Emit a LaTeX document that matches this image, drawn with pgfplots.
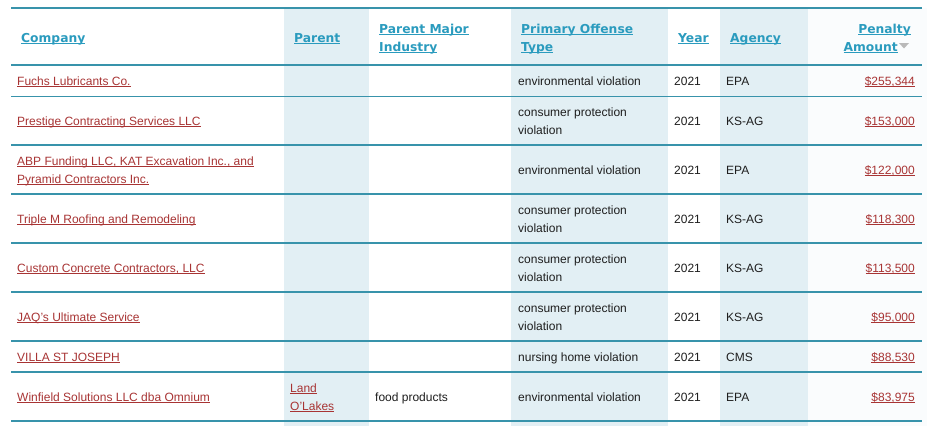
\documentclass[border=0pt]{standalone}
\usepackage{pgfplots}
\pgfplotsset{compat=1.18}
\usepackage{fontspec}
\setmainfont{Liberation Sans}
\newfontfamily\hdfont{DejaVu Sans}
\definecolor{hd}{HTML}{2A9BBE}
\definecolor{ln}{HTML}{3893AB}
\definecolor{lk}{HTML}{A83434}
\definecolor{sh}{HTML}{E2EFF4}
\definecolor{shb}{HTML}{FAFCFD}
\definecolor{tx}{HTML}{1E1E1E}
\newcommand{\ul}[1]{\setbox0\hbox{#1}\rlap{\rule[-1.6pt]{\wd0}{0.85pt}}\box0}
\newcommand{\hul}[1]{\setbox0\hbox{#1}\rlap{\rule[-2.2pt]{\wd0}{1pt}}\box0}
\newcommand{\hd}[1]{{\hdfont\bfseries\fontsize{12.3}{14}\selectfont\color{hd}\hul{#1}}}
\newcommand{\lkt}[1]{{\color{lk}\ul{#1}}}
\begin{document}
\begin{tikzpicture}[font=\fontsize{12}{14}\selectfont, every node/.style={inner sep=0pt, text=tx}]
\begin{axis}[x=1pt, y=1pt, xmin=0, xmax=951, ymin=0, ymax=426, y dir=reverse,
  hide axis, clip=false]
% background
\addplot[fill=white, draw=none] coordinates {(0,0)(951,0)(951,426)(0,426)} -- cycle;
% shaded columns
\addplot[fill=sh, draw=none] coordinates {(284,8)(369,8)(369,426)(284,426)} -- cycle;
\addplot[fill=sh, draw=none] coordinates {(511,8)(668,8)(668,426)(511,426)} -- cycle;
\addplot[fill=sh, draw=none] coordinates {(720,8)(808,8)(808,426)(720,426)} -- cycle;
\addplot[fill=shb, draw=none] coordinates {(808,8)(927,8)(927,426)(808,426)} -- cycle;
% horizontal rules
\addplot[ln, line width=1.05pt] coordinates {(11,8)(922,8)};
\addplot[ln, line width=1.05pt] coordinates {(11,65)(922,65)};
\addplot[ln, line width=1.05pt] coordinates {(11,96.5)(922,96.5)};
\addplot[ln, line width=1.05pt] coordinates {(11,145)(922,145)};
\addplot[ln, line width=1.05pt] coordinates {(11,194)(922,194)};
\addplot[ln, line width=1.05pt] coordinates {(11,243)(922,243)};
\addplot[ln, line width=1.05pt] coordinates {(11,292)(922,292)};
\addplot[ln, line width=1.05pt] coordinates {(11,341)(922,341)};
\addplot[ln, line width=1.05pt] coordinates {(11,372)(922,372)};
\addplot[ln, line width=1.05pt] coordinates {(11,421)(922,421)};
% sort triangle
\addplot[fill=gray!55, draw=none] coordinates {(899,43)(909,43)(904,48.5)} -- cycle;
% header
\node[anchor=base west] at (axis cs:21,42) {\hd{Company}};
\node[anchor=base west] at (axis cs:294,42) {\hd{Parent}};
\node[anchor=base west] at (axis cs:379,33) {\hd{Parent Major}};
\node[anchor=base west] at (axis cs:379,51) {\hd{Industry}};
\node[anchor=base west] at (axis cs:521,33) {\hd{Primary Offense}};
\node[anchor=base west] at (axis cs:521,51) {\hd{Type}};
\node[anchor=base west] at (axis cs:678,42) {\hd{Year}};
\node[anchor=base west] at (axis cs:730,42) {\hd{Agency}};
\node[anchor=base east] at (axis cs:911,33) {\hd{Penalty}};
\node[anchor=base east] at (axis cs:898,51) {\hd{Amount}};
% row 1
\node[anchor=base west] at (axis cs:17,85) {\lkt{Fuchs Lubricants Co.}};
\node[anchor=base west] at (axis cs:518,85) {environmental violation};
\node[anchor=base west] at (axis cs:674,85) {2021};
\node[anchor=base west] at (axis cs:726,85) {EPA};
\node[anchor=base east] at (axis cs:915,85) {\lkt{\$255,344}};
% row 2
\node[anchor=base west] at (axis cs:17,125) {\lkt{Prestige Contracting Services LLC}};
\node[anchor=base west] at (axis cs:518,116.5) {consumer protection};
\node[anchor=base west] at (axis cs:518,134) {violation};
\node[anchor=base west] at (axis cs:674,125) {2021};
\node[anchor=base west] at (axis cs:726,125) {KS-AG};
\node[anchor=base east] at (axis cs:915,125) {\lkt{\$153,000}};
% row 3
\node[anchor=base west] at (axis cs:17,165.5) {\lkt{ABP Funding LLC, KAT Excavation Inc., and}};
\node[anchor=base west] at (axis cs:17,183) {\lkt{Pyramid Contractors Inc.}};
\node[anchor=base west] at (axis cs:518,174) {environmental violation};
\node[anchor=base west] at (axis cs:674,174) {2021};
\node[anchor=base west] at (axis cs:726,174) {EPA};
\node[anchor=base east] at (axis cs:915,174) {\lkt{\$122,000}};
% row 4
\node[anchor=base west] at (axis cs:17,223) {\lkt{Triple M Roofing and Remodeling}};
\node[anchor=base west] at (axis cs:518,214.5) {consumer protection};
\node[anchor=base west] at (axis cs:518,232) {violation};
\node[anchor=base west] at (axis cs:674,223) {2021};
\node[anchor=base west] at (axis cs:726,223) {KS-AG};
\node[anchor=base east] at (axis cs:915,223) {\lkt{\$118,300}};
% row 5
\node[anchor=base west] at (axis cs:17,272) {\lkt{Custom Concrete Contractors, LLC}};
\node[anchor=base west] at (axis cs:518,263.5) {consumer protection};
\node[anchor=base west] at (axis cs:518,281) {violation};
\node[anchor=base west] at (axis cs:674,272) {2021};
\node[anchor=base west] at (axis cs:726,272) {KS-AG};
\node[anchor=base east] at (axis cs:915,272) {\lkt{\$113,500}};
% row 6
\node[anchor=base west] at (axis cs:17,321) {\lkt{JAQ's Ultimate Service}};
\node[anchor=base west] at (axis cs:518,312.5) {consumer protection};
\node[anchor=base west] at (axis cs:518,330) {violation};
\node[anchor=base west] at (axis cs:674,321) {2021};
\node[anchor=base west] at (axis cs:726,321) {KS-AG};
\node[anchor=base east] at (axis cs:915,321) {\lkt{\$95,000}};
% row 7
\node[anchor=base west] at (axis cs:17,361) {\lkt{VILLA ST JOSEPH}};
\node[anchor=base west] at (axis cs:518,361) {nursing home violation};
\node[anchor=base west] at (axis cs:674,361) {2021};
\node[anchor=base west] at (axis cs:726,361) {CMS};
\node[anchor=base east] at (axis cs:915,361) {\lkt{\$88,530}};
% row 8
\node[anchor=base west] at (axis cs:17,401) {\lkt{Winfield Solutions LLC dba Omnium}};
\node[anchor=base west] at (axis cs:290,392.5) {\lkt{Land}};
\node[anchor=base west] at (axis cs:290,410) {\lkt{O'Lakes}};
\node[anchor=base west] at (axis cs:375,401) {food products};
\node[anchor=base west] at (axis cs:518,401) {environmental violation};
\node[anchor=base west] at (axis cs:674,401) {2021};
\node[anchor=base west] at (axis cs:726,401) {EPA};
\node[anchor=base east] at (axis cs:915,401) {\lkt{\$83,975}};
\end{axis}
\end{tikzpicture}
\end{document}
